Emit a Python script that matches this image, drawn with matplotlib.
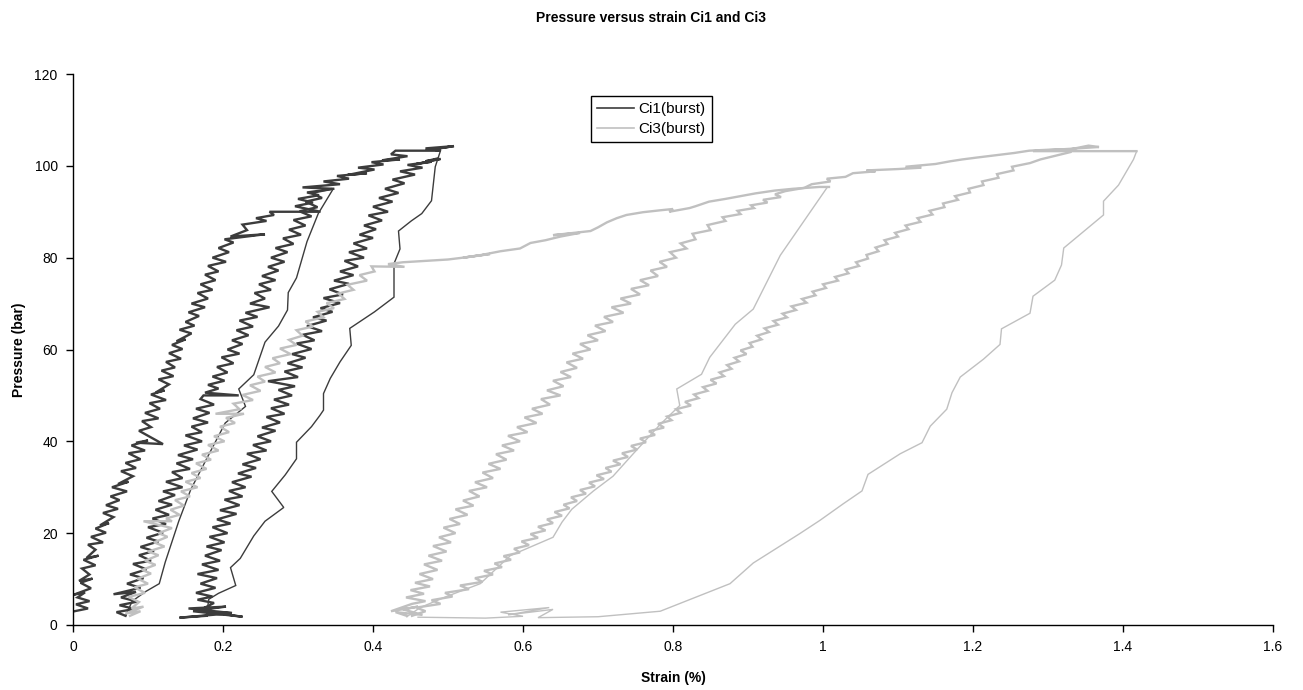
"""Pressure versus strain for Ci1 and Ci3 burst tests (load / unload cycles)."""
import matplotlib as mpl
mpl.use("Agg")
import matplotlib.pyplot as plt
import numpy as np

plt.rcParams["font.family"] = ["Liberation Sans", "DejaVu Sans"]

# ---- Ci1 (burst): (strain %, pressure bar), cycles in recording order ----
ci1_load1 = [
    (0.002, 3.0), (0.020, 3.6), (0.004, 4.5), (0.022, 5.2), (0.006, 6.0), (0.016, 7.1),
    (0.001, 6.6), (0.024, 8.0), (0.010, 9.2), (0.026, 10.1), (0.008, 9.6), (0.022, 11.0),
    (0.012, 12.3), (0.030, 13.0), (0.014, 14.2), (0.034, 15.1), (0.018, 14.6), (0.030, 16.4),
    (0.020, 17.5), (0.040, 18.0), (0.024, 19.2), (0.044, 20.1), (0.030, 21.0), (0.048, 22.2),
    (0.036, 21.7), (0.054, 23.5), (0.040, 24.4), (0.060, 25.3), (0.044, 26.1), (0.062, 27.2),
    (0.050, 28.0), (0.072, 29.1), (0.052, 30.0), (0.074, 31.2), (0.060, 30.7), (0.080, 32.4),
    (0.064, 33.5), (0.084, 34.2), (0.070, 35.3), (0.090, 36.1), (0.074, 37.4), (0.096, 38.0),
    (0.078, 39.1), (0.100, 40.2), (0.084, 39.7), (0.120, 39.4), (0.088, 42.3), (0.104, 43.1),
    (0.092, 44.4), (0.114, 45.0), (0.096, 46.2), (0.116, 47.1), (0.102, 48.3), (0.124, 49.0),
    (0.104, 50.2), (0.122, 51.1), (0.110, 50.6), (0.128, 52.4), (0.114, 53.5), (0.134, 54.2),
    (0.118, 55.4), (0.136, 56.1), (0.124, 57.3), (0.144, 58.0), (0.128, 59.2), (0.146, 60.1),
    (0.132, 61.0), (0.150, 62.2), (0.138, 61.8), (0.158, 63.5), (0.142, 64.3), (0.162, 65.2),
    (0.150, 66.0), (0.168, 67.3), (0.154, 68.1), (0.176, 69.2), (0.158, 70.0), (0.180, 71.1),
    (0.166, 72.3), (0.186, 73.0), (0.170, 74.2), (0.190, 75.1), (0.176, 76.3), (0.194, 77.0),
    (0.180, 78.2), (0.204, 79.1), (0.186, 80.0), (0.208, 81.2), (0.194, 82.1), (0.214, 83.3),
    (0.202, 84.0), (0.256, 85.1), (0.210, 84.6), (0.232, 86.0), (0.226, 87.2), (0.258, 88.0),
    (0.244, 88.6), (0.268, 89.3), (0.262, 90.0), (0.330, 90.0), (0.296, 91.2), (0.320, 92.0),
    (0.300, 92.8), (0.328, 93.6), (0.312, 94.2), (0.347, 95.0),
]
ci1_unload1 = [
    (0.347, 95.0), (0.327, 89.6), (0.312, 83.5), (0.298, 75.6), (0.287, 72.4), (0.286, 68.6),
    (0.274, 65.1), (0.256, 61.6), (0.241, 54.5), (0.221, 51.4), (0.230, 47.6), (0.203, 44.0),
    (0.181, 37.1), (0.157, 29.5), (0.141, 22.6), (0.123, 13.7), (0.115, 9.0), (0.097, 7.3),
    (0.079, 5.2), (0.070, 2.0),
]
ci1_load2 = [
    (0.070, 2.0), (0.058, 2.8), (0.082, 3.5), (0.062, 4.3), (0.086, 5.1), (0.064, 6.0),
    (0.084, 7.2), (0.054, 6.7), (0.090, 8.1), (0.072, 9.0), (0.094, 10.2), (0.076, 11.0),
    (0.098, 12.1), (0.080, 13.3), (0.104, 14.0), (0.088, 15.2), (0.108, 16.1), (0.090, 17.0),
    (0.114, 18.2), (0.098, 19.0), (0.120, 20.1), (0.100, 21.3), (0.124, 22.0), (0.106, 23.2),
    (0.128, 24.0), (0.110, 25.1), (0.132, 26.2), (0.114, 27.0), (0.136, 28.3), (0.120, 29.1),
    (0.146, 30.0), (0.124, 31.2), (0.146, 32.0), (0.132, 33.3), (0.156, 34.0), (0.138, 35.2),
    (0.160, 36.1), (0.140, 37.0), (0.166, 38.2), (0.148, 39.1), (0.172, 40.0), (0.150, 41.3),
    (0.172, 42.0), (0.158, 43.2), (0.180, 44.1), (0.160, 45.0), (0.182, 46.2), (0.164, 47.1),
    (0.188, 48.0), (0.170, 49.2), (0.174, 50.0), (0.221, 50.0), (0.176, 50.6), (0.194, 51.5),
    (0.180, 52.3), (0.202, 53.2), (0.186, 54.1), (0.206, 55.0), (0.192, 56.2), (0.214, 57.0),
    (0.198, 58.3), (0.222, 59.1), (0.206, 60.0), (0.226, 61.2), (0.212, 62.0), (0.234, 63.1),
    (0.218, 64.2), (0.240, 65.0), (0.222, 66.3), (0.246, 67.1), (0.230, 68.0), (0.262, 69.2),
    (0.236, 70.0), (0.256, 71.1), (0.242, 72.3), (0.264, 73.0), (0.248, 74.2), (0.270, 75.1),
    (0.252, 76.0), (0.274, 77.2), (0.260, 78.0), (0.282, 79.1), (0.264, 80.0), (0.286, 81.2),
    (0.270, 82.1), (0.294, 83.0), (0.280, 84.2), (0.304, 85.0), (0.288, 86.1), (0.310, 87.0),
    (0.294, 88.2), (0.318, 89.0), (0.302, 90.1), (0.326, 91.0), (0.310, 92.2), (0.332, 93.0),
    (0.318, 94.1), (0.346, 95.0), (0.306, 95.3), (0.356, 96.0), (0.334, 96.6), (0.368, 97.2),
    (0.352, 97.8), (0.392, 98.4), (0.366, 98.0), (0.402, 99.2), (0.380, 99.6), (0.414, 100.3),
    (0.398, 100.8), (0.436, 101.4), (0.412, 101.2), (0.446, 102.1), (0.424, 102.5),
    (0.430, 103.3), (0.490, 103.3), (0.470, 103.8), (0.508, 104.3), (0.484, 103.7),
    (0.500, 104.1),
]
ci1_unload2 = [
    (0.490, 103.3), (0.483, 99.8), (0.478, 92.4), (0.465, 89.6), (0.451, 88.0), (0.434, 85.8),
    (0.436, 81.9), (0.428, 78.7), (0.428, 71.4), (0.402, 68.2), (0.369, 64.6), (0.371, 60.9),
    (0.356, 57.3), (0.343, 53.7), (0.334, 50.4), (0.334, 46.8), (0.329, 45.6), (0.318, 43.2),
    (0.298, 39.8), (0.298, 36.2), (0.283, 32.7), (0.265, 29.1), (0.281, 25.6), (0.256, 22.6),
    (0.241, 19.4), (0.223, 14.5), (0.210, 12.5), (0.217, 8.6), (0.194, 6.9), (0.181, 5.6),
    (0.178, 2.0),
]
ci1_load3 = [
    (0.178, 2.0), (0.142, 1.6), (0.200, 2.4), (0.226, 1.8), (0.160, 3.0), (0.212, 2.6),
    (0.154, 3.6), (0.204, 4.0), (0.170, 3.3), (0.188, 4.8), (0.166, 5.5), (0.186, 6.2),
    (0.164, 7.0), (0.190, 8.1), (0.170, 9.0), (0.192, 10.2), (0.166, 11.1), (0.194, 12.0),
    (0.172, 13.2), (0.196, 14.0), (0.176, 15.1), (0.198, 16.3), (0.178, 17.1), (0.202, 18.0),
    (0.182, 19.2), (0.206, 20.0), (0.186, 21.3), (0.210, 22.1), (0.192, 23.0), (0.218, 24.2),
    (0.196, 25.0), (0.222, 26.1), (0.202, 27.3), (0.226, 28.0), (0.208, 29.2), (0.230, 30.0),
    (0.212, 31.1), (0.238, 32.3), (0.220, 33.0), (0.244, 34.2), (0.226, 35.0), (0.250, 36.1),
    (0.232, 37.3), (0.258, 38.0), (0.240, 39.2), (0.264, 40.0), (0.246, 41.1), (0.270, 42.3),
    (0.252, 43.0), (0.276, 44.1), (0.258, 45.3), (0.282, 46.0), (0.264, 47.2), (0.288, 48.0),
    (0.268, 49.1), (0.292, 50.0), (0.274, 51.2), (0.296, 52.0), (0.260, 53.1), (0.300, 54.0),
    (0.282, 55.2), (0.306, 56.1), (0.286, 57.0), (0.310, 58.2), (0.292, 59.0), (0.318, 60.1),
    (0.298, 61.3), (0.322, 62.0), (0.306, 63.2), (0.332, 64.0), (0.312, 65.1), (0.338, 66.3),
    (0.320, 67.0), (0.346, 68.2), (0.330, 69.0), (0.356, 70.1), (0.334, 71.2), (0.360, 72.0),
    (0.342, 73.1), (0.368, 74.3), (0.348, 75.0), (0.374, 76.2), (0.356, 77.0), (0.380, 78.1),
    (0.362, 79.3), (0.388, 80.0), (0.368, 81.2), (0.392, 82.0), (0.374, 83.1), (0.400, 84.3),
    (0.382, 85.0), (0.404, 86.2), (0.388, 87.0), (0.412, 88.1), (0.394, 89.2), (0.420, 90.0),
    (0.400, 91.1), (0.426, 92.2), (0.408, 93.0), (0.434, 94.1), (0.416, 95.0), (0.442, 96.2),
    (0.426, 97.0), (0.456, 98.1), (0.436, 98.8), (0.466, 99.6), (0.446, 100.2), (0.478, 100.9),
    (0.458, 100.4), (0.490, 101.5), (0.470, 101.0), (0.486, 101.6),
]

# ---- Ci3 (burst) ----
ci3_load1 = [
    (0.076, 2.0), (0.090, 3.0), (0.070, 2.5), (0.094, 4.0), (0.078, 3.6), (0.088, 5.0),
    (0.074, 6.1), (0.096, 7.0), (0.082, 8.2), (0.100, 9.0), (0.086, 10.1), (0.104, 11.2),
    (0.092, 12.0), (0.110, 13.1), (0.096, 14.0), (0.114, 15.2), (0.100, 16.0), (0.122, 17.1),
    (0.108, 18.0), (0.126, 19.2), (0.114, 20.0), (0.132, 21.1), (0.094, 22.6), (0.132, 22.6),
    (0.124, 23.2), (0.142, 24.0), (0.130, 25.1), (0.148, 26.0), (0.136, 27.2), (0.156, 28.0),
    (0.144, 29.1), (0.166, 30.0), (0.150, 31.2), (0.170, 32.0), (0.158, 33.1), (0.178, 34.0),
    (0.164, 35.2), (0.184, 36.0), (0.172, 37.1), (0.194, 38.0), (0.180, 39.2), (0.202, 40.0),
    (0.188, 41.1), (0.208, 42.0), (0.196, 43.2), (0.216, 44.0), (0.204, 45.1), (0.228, 46.0),
    (0.190, 46.0), (0.222, 47.0), (0.214, 48.2), (0.240, 49.0), (0.226, 50.1), (0.250, 51.0),
    (0.236, 52.2), (0.256, 53.0), (0.246, 54.1), (0.270, 55.0), (0.256, 56.2), (0.276, 57.0),
    (0.266, 58.1), (0.290, 59.0), (0.276, 60.2), (0.298, 61.0), (0.288, 62.1), (0.306, 63.0),
    (0.298, 64.2), (0.320, 65.0), (0.310, 66.1), (0.334, 67.0), (0.326, 68.2), (0.348, 69.0),
    (0.338, 70.1), (0.362, 71.0), (0.354, 72.2), (0.374, 73.0), (0.366, 74.1), (0.392, 75.0),
    (0.382, 76.2), (0.402, 77.0), (0.398, 78.1), (0.442, 78.0), (0.420, 78.6), (0.440, 79.0),
    (0.470, 79.3), (0.500, 79.6), (0.530, 80.2), (0.556, 80.8), (0.520, 80.0), (0.545, 80.6),
    (0.570, 81.4), (0.596, 82.0), (0.610, 83.2), (0.630, 83.8), (0.650, 84.6), (0.676, 85.4),
    (0.640, 84.9), (0.690, 85.8), (0.700, 86.6), (0.712, 87.7), (0.725, 88.6), (0.738, 89.3),
    (0.760, 89.9), (0.782, 90.3), (0.800, 90.6), (0.795, 90.0), (0.822, 90.8), (0.830, 91.2),
    (0.848, 92.2), (0.870, 92.8), (0.890, 93.4), (0.910, 94.0), (0.935, 94.6), (0.960, 95.0),
    (0.995, 95.4), (1.008, 95.4),
]
ci3_unload1 = [
    (1.006, 95.4), (0.943, 80.5), (0.907, 68.8), (0.883, 65.5), (0.849, 58.3), (0.838, 54.6),
    (0.805, 51.4), (0.809, 47.8), (0.783, 43.7), (0.747, 37.3), (0.720, 32.4), (0.694, 29.2),
    (0.665, 25.2), (0.652, 22.4), (0.640, 19.1), (0.583, 15.1), (0.543, 9.0), (0.498, 6.2),
    (0.463, 3.8), (0.445, 1.8),
]
ci3_load2 = [
    (0.445, 2.0), (0.430, 2.8), (0.466, 2.2), (0.440, 3.4), (0.460, 4.0), (0.424, 3.0),
    (0.452, 4.6), (0.470, 5.2), (0.444, 6.0), (0.468, 6.8), (0.450, 7.6), (0.476, 8.4),
    (0.456, 9.2), (0.480, 10.0), (0.462, 11.1), (0.486, 12.0), (0.468, 13.2), (0.492, 14.0),
    (0.474, 15.1), (0.498, 16.0), (0.480, 17.2), (0.504, 18.0), (0.488, 19.1), (0.510, 20.0),
    (0.494, 21.2), (0.516, 22.0), (0.502, 23.1), (0.526, 24.0), (0.510, 25.2), (0.534, 26.0),
    (0.520, 27.1), (0.542, 28.0), (0.528, 29.2), (0.552, 30.0), (0.536, 31.1), (0.560, 32.0),
    (0.546, 33.2), (0.570, 34.0), (0.554, 35.1), (0.578, 36.0), (0.564, 37.2), (0.588, 38.0),
    (0.572, 39.1), (0.596, 40.0), (0.580, 41.2), (0.606, 42.0), (0.592, 43.1), (0.618, 44.0),
    (0.602, 45.2), (0.626, 46.0), (0.612, 47.1), (0.636, 48.0), (0.624, 49.2), (0.650, 50.0),
    (0.632, 51.1), (0.654, 52.0), (0.640, 53.2), (0.664, 54.0), (0.650, 55.1), (0.672, 56.0),
    (0.658, 57.2), (0.680, 58.0), (0.666, 59.1), (0.690, 60.0), (0.676, 61.2), (0.700, 62.0),
    (0.686, 63.1), (0.710, 64.0), (0.696, 65.2), (0.720, 66.0), (0.708, 67.1), (0.734, 68.0),
    (0.718, 69.2), (0.744, 70.0), (0.730, 71.1), (0.756, 72.0), (0.744, 73.2), (0.768, 74.0),
    (0.756, 75.1), (0.780, 76.0), (0.770, 77.2), (0.792, 78.0), (0.782, 79.1), (0.804, 80.0),
    (0.796, 81.2), (0.818, 82.0), (0.810, 83.1), (0.830, 84.0), (0.826, 85.2), (0.850, 86.0),
    (0.846, 87.1), (0.870, 88.0), (0.866, 88.8), (0.890, 89.5), (0.886, 90.2), (0.908, 90.8),
    (0.904, 91.4), (0.926, 92.0), (0.920, 92.6), (0.944, 93.2), (0.936, 93.8), (0.950, 94.5),
    (0.975, 95.2), (0.985, 96.0), (1.010, 96.6), (1.005, 97.2), (1.030, 97.6), (1.040, 98.4),
    (1.070, 98.8), (1.058, 99.0), (1.100, 99.3), (1.131, 99.6), (1.110, 99.8), (1.150, 100.4),
    (1.170, 101.0), (1.186, 101.4), (1.205, 101.8), (1.230, 102.3), (1.255, 102.8),
    (1.275, 103.3), (1.300, 103.5), (1.330, 103.6), (1.354, 104.4), (1.368, 104.1),
    (1.280, 103.2), (1.418, 103.2),
]
ci3_unload2 = [
    (1.418, 103.1), (1.414, 101.4), (1.394, 95.8), (1.374, 92.3), (1.374, 89.3), (1.321, 82.1),
    (1.318, 78.4), (1.309, 75.1), (1.280, 71.6), (1.276, 67.9), (1.238, 64.5), (1.236, 61.1),
    (1.214, 57.9), (1.183, 54.0), (1.172, 50.6), (1.165, 47.0), (1.143, 43.3), (1.132, 39.7),
    (1.103, 37.3), (1.060, 32.8), (1.052, 29.2), (1.027, 26.4), (0.996, 22.8), (0.969, 19.9),
    (0.907, 13.5), (0.876, 9.0), (0.783, 3.0), (0.700, 1.8), (0.620, 1.6), (0.640, 3.4),
    (0.580, 2.2), (0.635, 3.8), (0.570, 2.8), (0.600, 1.9), (0.550, 1.5), (0.460, 1.7),
]
ci3_load3 = [
    (0.452, 2.0), (0.470, 3.0), (0.458, 3.8), (0.490, 4.6), (0.478, 5.4), (0.506, 6.2),
    (0.496, 7.0), (0.528, 7.8), (0.516, 8.6), (0.546, 9.4), (0.536, 10.2), (0.560, 11.0),
    (0.548, 11.8), (0.572, 12.6), (0.562, 13.4), (0.584, 14.2), (0.574, 15.0), (0.596, 15.8),
    (0.588, 16.6), (0.608, 17.4), (0.598, 18.2), (0.620, 19.0), (0.610, 19.8), (0.630, 20.6),
    (0.620, 21.4), (0.640, 22.2), (0.632, 23.0), (0.652, 23.8), (0.642, 24.6), (0.662, 25.4),
    (0.654, 26.2), (0.672, 27.0), (0.664, 27.8), (0.684, 28.6), (0.676, 29.4), (0.696, 30.2),
    (0.688, 31.0), (0.708, 31.8), (0.698, 32.6), (0.718, 33.4), (0.710, 34.2), (0.730, 35.0),
    (0.720, 35.8), (0.740, 36.6), (0.732, 37.4), (0.752, 38.2), (0.744, 39.0), (0.764, 39.8),
    (0.756, 40.6), (0.776, 41.4), (0.768, 42.2), (0.788, 43.0), (0.780, 43.8), (0.798, 44.6),
    (0.792, 45.4), (0.810, 46.2), (0.804, 47.0), (0.824, 47.8), (0.816, 48.6), (0.834, 49.4),
    (0.828, 50.2), (0.846, 51.0), (0.840, 51.8), (0.858, 52.6), (0.850, 53.4), (0.868, 54.2),
    (0.862, 55.0), (0.878, 55.8), (0.872, 56.6), (0.888, 57.4), (0.882, 58.2), (0.898, 59.0),
    (0.890, 59.8), (0.906, 60.6), (0.902, 61.4), (0.918, 62.2), (0.912, 63.0), (0.928, 63.8),
    (0.922, 64.6), (0.940, 65.4), (0.934, 66.2), (0.952, 67.0), (0.946, 67.8), (0.964, 68.6),
    (0.958, 69.4), (0.978, 70.2), (0.972, 71.0), (0.990, 71.8), (0.986, 72.6), (1.004, 73.4),
    (1.000, 74.2), (1.020, 75.0), (1.016, 75.8), (1.034, 76.6), (1.030, 77.4), (1.048, 78.2),
    (1.044, 79.0), (1.060, 79.8), (1.058, 80.6), (1.074, 81.4), (1.070, 82.2), (1.086, 83.0),
    (1.082, 83.8), (1.100, 84.6), (1.096, 85.4), (1.114, 86.2), (1.110, 87.0), (1.130, 87.8),
    (1.126, 88.6), (1.146, 89.4), (1.142, 90.2), (1.162, 91.0), (1.160, 91.8), (1.180, 92.6),
    (1.176, 93.4), (1.196, 94.2), (1.194, 95.0), (1.214, 95.8), (1.212, 96.6), (1.234, 97.4),
    (1.232, 98.2), (1.254, 99.0), (1.252, 99.8), (1.276, 100.6), (1.290, 101.4),
    (1.310, 102.2), (1.330, 103.0),
]

# (segment, is_noisy_loading)
ci1_segments = [(ci1_load1, True), (ci1_unload1, False), (ci1_load2, True),
                (ci1_unload2, False), (ci1_load3, True)]
ci3_segments = [(ci3_load1, True), (ci3_unload1, False), (ci3_load2, True),
                (ci3_unload2, False), (ci3_load3, True)]

x_ticks = [0, 0.2, 0.4, 0.6, 0.8, 1.0, 1.2, 1.4, 1.6]
x_labels = ["0", "0.2", "0.4", "0.6", "0.8", "1", "1.2", "1.4", "1.6"]
y_ticks = [0, 20, 40, 60, 80, 100, 120]

fig = plt.figure(figsize=(13.03, 6.90), dpi=100)
ax = fig.add_axes([73 / 1303, 65 / 690, 1200 / 1303, 551 / 690])


def draw(segments, color, label):
    for i, (seg, noisy) in enumerate(segments):
        pts = np.array(seg)
        ax.plot(pts[:, 0], pts[:, 1], color=color, lw=1.7 if noisy else 1.0,
                solid_joinstyle="miter", label=label if i == 0 else None)


draw(ci1_segments, "#3c3c3c", "Ci1(burst)")
draw(ci3_segments, "#c0c0c0", "Ci3(burst)")

ax.set_xlim(0, 1.6)
ax.set_ylim(0, 120)
ax.set_xticks(x_ticks)
ax.set_xticklabels(x_labels)
ax.set_yticks(y_ticks)
ax.tick_params(direction="out", length=5, width=1, labelsize=10, pad=6, colors="black")
for side in ("top", "right"):
    ax.spines[side].set_visible(False)
for side in ("left", "bottom"):
    ax.spines[side].set_linewidth(1)
    ax.spines[side].set_color("black")

ax.set_xlabel("Strain (%)", fontsize=10, fontweight="bold", labelpad=12)
ax.set_ylabel("Pressure (bar)", fontsize=10, fontweight="bold", labelpad=6)
fig.suptitle("Pressure versus strain Ci1 and Ci3", fontsize=10, fontweight="bold", y=0.984)

leg = ax.legend(loc="upper left", bbox_to_anchor=(591 / 1303, 1 - 96 / 690),
                bbox_transform=fig.transFigure, fontsize=11, frameon=True, fancybox=False,
                edgecolor="black", framealpha=1, borderpad=0.4, handlelength=2.4,
                handletextpad=0.3, labelspacing=0.4, borderaxespad=0)
leg.get_frame().set_linewidth(1)
for line in leg.get_lines():
    line.set_linewidth(1.2)

fig.savefig("out.png", dpi=100)
plt.close(fig)
